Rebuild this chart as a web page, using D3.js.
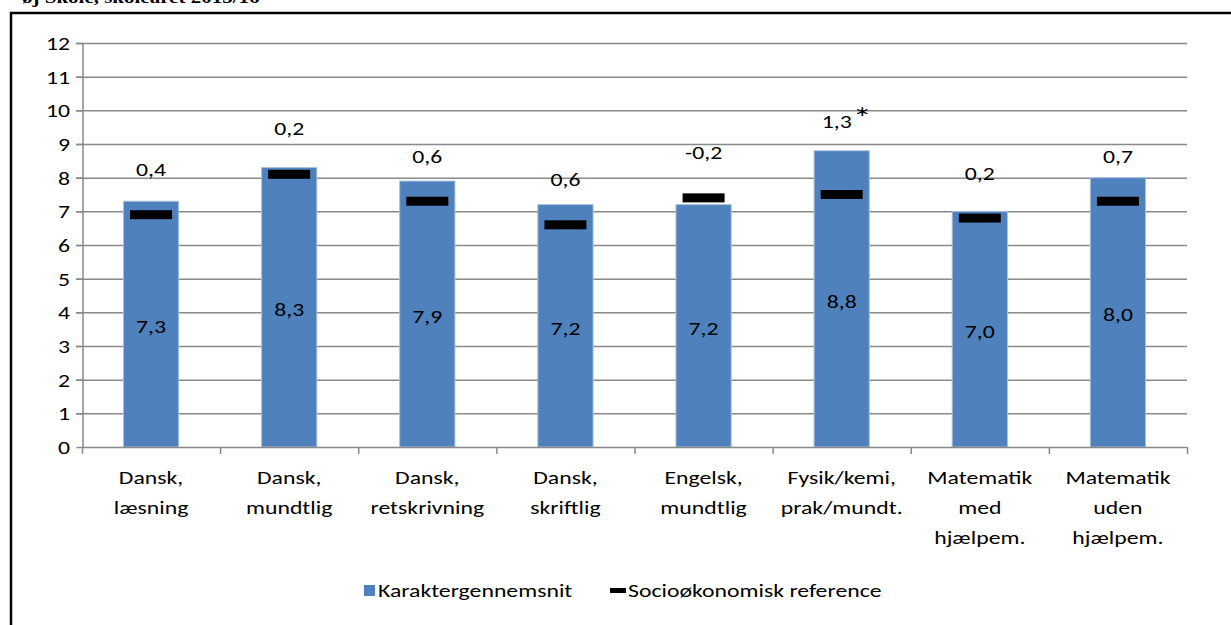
<!DOCTYPE html>
<html><head><meta charset="utf-8">
<script src="https://cdn.jsdelivr.net/npm/d3@7/dist/d3.min.js"></script>
<style>
body{margin:0;background:#fff;}
svg{display:block;}
text{font-family:Carlito,Calibri,"Open Sans","Noto Sans",sans-serif;fill:#000;font-size:18px;}
</style></head>
<body>
<svg id="c" width="1231" height="625"></svg>
<script>
const categories = [
  ["Dansk,","læsning"],
  ["Dansk,","mundtlig"],
  ["Dansk,","retskrivning"],
  ["Dansk,","skriftlig"],
  ["Engelsk,","mundtlig"],
  ["Fysik/kemi,","prak/mundt."],
  ["Matematik","med","hjælpem."],
  ["Matematik","uden","hjælpem."]
];
const karaktergennemsnit = [7.3, 8.3, 7.9, 7.2, 7.2, 8.8, 7.0, 8.0];
const socioReference = [6.9, 8.1, 7.3, 6.6, 7.4, 7.5, 6.8, 7.3];
const diffLabels = ["0,4", "0,2", "0,6", "0,6", "-0,2", "1,3", "0,2", "0,7"];
const diffSignificant = [false, false, false, false, false, true, false, false];
const diffLabelAt = [8.23, 9.44, 8.61, 7.93, 8.73, 9.65, 8.1, 8.61];
const yTicks = [0,1,2,3,4,5,6,7,8,9,10,11,12];
const legendLabels = ["Karaktergennemsnit", "Socioøkonomisk reference"];
const titleText = "øj Skole, skoleåret 2015/16";

const SX = 1.32; // horizontal stretch of the reference's text
const svg = d3.select("#c");
const fmt = v => d3.format(".1f")(v).replace(".", ",");

// helper: stretched text at (x,y)
function stext(parent, xx, yy, txt, anchor, baseline, sx) {
  const g = parent.append("g").attr("transform", `translate(${xx},${yy}) scale(${sx || SX},1)`);
  const t = g.append("text").attr("text-anchor", anchor || "start");
  if (baseline) t.attr("dominant-baseline", baseline);
  if (txt !== null) t.text(txt);
  return t;
}

// frame
svg.append("rect").attr("x",11).attr("y",13).attr("width",1240).attr("height",700)
  .attr("fill","none").attr("stroke","#000").attr("stroke-width",2.5);

// cropped title
stext(svg, 22, 3, titleText, "start", null, 1.235)
  .style("font-family","'Liberation Serif','DejaVu Serif',serif")
  .style("font-weight","bold").style("font-size","17px");

const idx = d3.range(categories.length);
const x = d3.scaleBand().domain(idx).range([82, 1187]).padding(0);
const y = d3.scaleLinear().domain([0, 12]).range([447, 43]);
const bw = x.bandwidth();
const grey = "#898989";

// gridlines
svg.append("g").selectAll("line").data(yTicks.filter(t => t > 0)).join("line")
  .attr("x1", 76).attr("x2", 1187)
  .attr("y1", d => y(d) + 0.5).attr("y2", d => y(d) + 0.5)
  .attr("stroke", grey).attr("stroke-width", 1.5);

// y axis
const yAxis = svg.append("g").attr("transform","translate(82.5,0)")
  .call(d3.axisLeft(y).tickValues(yTicks).tickSize(6).tickSizeOuter(0).tickFormat(d3.format("d")));
yAxis.select(".domain").attr("stroke", grey).attr("stroke-width",1.5);
yAxis.selectAll(".tick line").attr("stroke", grey).attr("stroke-width",1.5);
yAxis.selectAll(".tick text").remove();
const yl = svg.append("g");
yTicks.forEach(t => stext(yl, 70, y(t) + 1, d3.format("d")(t), "end", "central"));

// bars
svg.append("g").selectAll("rect").data(karaktergennemsnit).join("rect")
  .attr("x", (d,i) => x(i) + bw*0.3)
  .attr("width", bw*0.4)
  .attr("y", d => y(d))
  .attr("height", d => y(0) - y(d))
  .attr("fill", "#4F81BD").attr("stroke","#a9c1df").attr("stroke-width",1);

// x axis line & ticks
svg.append("line").attr("x1",82).attr("x2",1187).attr("y1",y(0)+0.5).attr("y2",y(0)+0.5)
  .attr("stroke",grey).attr("stroke-width",1.5);
svg.append("g").selectAll("line").data(d3.range(categories.length+1)).join("line")
  .attr("x1", d => 82.5 + d*bw).attr("x2", d => 82.5 + d*bw)
  .attr("y1", y(0)).attr("y2", y(0)+7)
  .attr("stroke",grey).attr("stroke-width",1.5);

// reference markers
svg.append("g").selectAll("rect").data(socioReference).join("rect")
  .attr("x", (d,i) => x(i) + bw/2 - 21)
  .attr("width", 42)
  .attr("y", d => y(d) - 4.5)
  .attr("height", 9)
  .attr("fill", "#000");

// value labels inside bars
const vl = svg.append("g");
karaktergennemsnit.forEach((d,i) => stext(vl, x(i) + bw/2, y(d/2) + 3, fmt(d), "middle", "central"));

// difference labels
const dlg = svg.append("g");
diffLabels.forEach((d,i) => {
  const cx = x(i) + bw/2, cy = y(diffLabelAt[i]);
  if (diffSignificant[i]) {
    stext(dlg, cx - 5, cy, d, "middle", "central");
    stext(dlg, cx + 11, cy - 4, "*", "start", "central").style("font-size","29px");
  } else {
    stext(dlg, cx, cy, d, "middle", "central");
  }
});

// category labels
const clg = svg.append("g");
categories.forEach((lines,i) => {
  lines.forEach((ln,j) => stext(clg, x(i) + bw/2, 484 + j*30, ln, "middle"));
});

// legend
const lg = svg.append("g");
lg.append("rect").attr("x",364).attr("y",585).attr("width",11).attr("height",11).attr("fill","#4F81BD");
stext(lg, 378, 591, legendLabels[0], "start", "central");
lg.append("rect").attr("x",610).attr("y",588).attr("width",16).attr("height",5).attr("fill","#000");
stext(lg, 628, 591, legendLabels[1], "start", "central");
</script>
</body></html>
